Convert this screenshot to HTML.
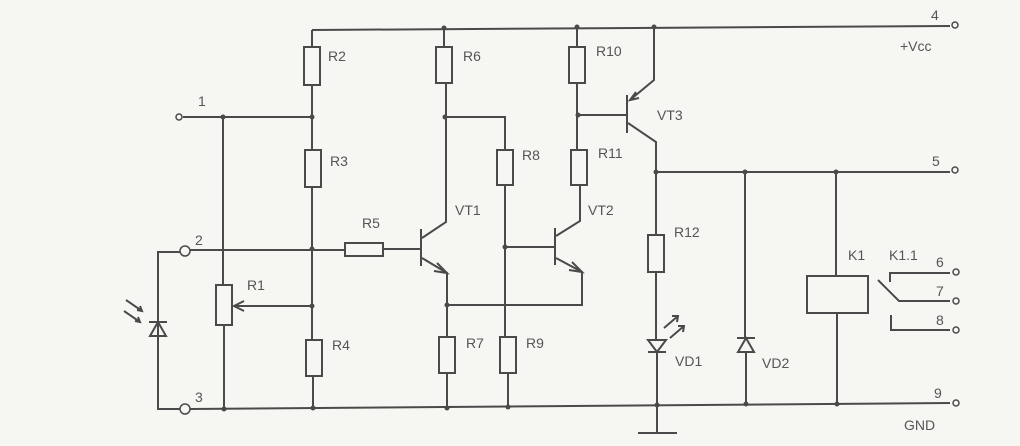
<!DOCTYPE html>
<html><head><meta charset="utf-8"><style>
html,body{margin:0;padding:0;background:#f6f6f3;}
svg{display:block}
text{font-family:"Liberation Sans",sans-serif;font-size:14px;fill:#555;}
</style></head><body>
<svg width="1020" height="446" viewBox="0 0 1020 446" xmlns="http://www.w3.org/2000/svg">
<rect width="1020" height="446" fill="#f6f6f3"/>
<g stroke="#4a4a4a" stroke-width="2" fill="none">
<!-- top rail -->
<path d="M312,30 L950,26"/>
<!-- bottom rail -->
<path d="M190,409 L950,403"/>
<!-- R2/R3/R4 column -->
<path d="M312,30 V47 M312,85 V150 M312,187 V340 M313,376 V408"/>
<rect x="304" y="47" width="16" height="38"/>
<rect x="305" y="150" width="16" height="37"/>
<rect x="306" y="340" width="16" height="36"/>
<!-- terminal1 line -->
<path d="M183,117 H312"/>
<!-- R1 pot -->
<path d="M223,117 V285 M224,325 V409"/>
<rect x="216" y="285" width="16" height="40"/>
<path d="M312,306 H234 M244,301 L234,306 L244,311"/>
<!-- node 2 row -->
<path d="M190,250 H345 M383,249 H421"/>
<rect x="345" y="243" width="38" height="13"/>
<!-- photodiode -->
<path d="M180,252 H158 V409 H180"/>
<path d="M149,322 H167 M158,322 L150,336 H166 Z"/>
<path d="M126,300 L142,311 M137,310 L142,311 L140,306 M124,311 L140,322 M135,321 L140,322 L138,317"/>
<!-- VT1 -->
<path d="M421,229 V266 M422,238 L446,222 V83 M422,258 L447,273 V337 M447,373 V408"/>
<path d="M437,263 L447,273 L434,271"/>
<rect x="439" y="337" width="16" height="36"/>
<!-- R6 -->
<path d="M444,28 V47"/>
<rect x="436" y="47" width="16" height="36"/>
<path d="M445,117 H505 V150 M505,185 V337 M508,373 V407"/>
<rect x="497" y="150" width="16" height="35"/>
<rect x="500" y="337" width="16" height="36"/>
<!-- VT2 -->
<path d="M505,247 H555 M555,228 V265 M556,236 L580,221 V185 M556,258 L582,272 V305 H447"/>
<path d="M572,262 L582,272 L569,270"/>
<!-- R10 R11 -->
<path d="M577,27 V47 M577,83 V150"/>
<rect x="569" y="47" width="16" height="36"/>
<rect x="571" y="150" width="16" height="35"/>
<path d="M578,115 H627"/>
<!-- VT3 -->
<path d="M627,95 V133 M654,27 V80 L630,100 M636,92 L630,100 L639,98 M628,123 L656,142 V172 M656,172 H950"/>
<!-- R12 LED -->
<path d="M656,172 V235 M656,272 V340 M657,352 V432 M638,433 H677"/>
<rect x="648" y="235" width="16" height="37"/>
<path d="M648,340 H666 L657,352 Z M648,352 H666"/>
<path d="M664,328 L678,316 M672,316 L678,316 L677,322 M670,338 L684,326 M678,326 L684,326 L683,332"/>
<!-- VD2 -->
<path d="M745,172 V338 M746,352 V404 M737,338 H755 M746,338 L738,352 H754 Z"/>
<!-- K1 -->
<path d="M836,172 V276 M837,313 V404"/>
<rect x="807" y="276" width="61" height="37"/>
<!-- contacts -->
<path d="M890,282 V273 H950 M878,280 L899,301 H950 M891,315 V330 H950"/>
</g>
<g fill="#4a4a4a">
<circle cx="312" cy="117" r="2.5"/><circle cx="223" cy="117" r="2.5"/><circle cx="312" cy="249" r="2.5"/>
<circle cx="312" cy="306" r="2.5"/><circle cx="224" cy="409" r="2.5"/><circle cx="313" cy="408" r="2.5"/>
<circle cx="444" cy="28" r="2.5"/><circle cx="445" cy="117" r="2.5"/><circle cx="505" cy="247" r="2.5"/>
<circle cx="447" cy="305" r="2.5"/><circle cx="447" cy="408" r="2.5"/><circle cx="508" cy="407" r="2.5"/>
<circle cx="577" cy="27" r="2.5"/><circle cx="578" cy="115" r="2.5"/><circle cx="654" cy="27" r="2.5"/>
<circle cx="656" cy="172" r="2.5"/><circle cx="745" cy="172" r="2.5"/><circle cx="836" cy="172" r="2.5"/>
<circle cx="657" cy="405" r="2.5"/><circle cx="746" cy="404" r="2.5"/><circle cx="837" cy="404" r="2.5"/>
</g>
<g stroke="#4a4a4a" stroke-width="1.5" fill="#f6f6f3">
<circle cx="179" cy="117" r="3"/><circle cx="185" cy="251" r="5"/><circle cx="185" cy="409" r="5"/>
<circle cx="955" cy="25" r="3"/><circle cx="955" cy="170" r="3"/><circle cx="956" cy="272" r="3"/>
<circle cx="956" cy="301" r="3"/><circle cx="956" cy="330" r="3"/><circle cx="956" cy="403" r="3"/>
</g>
<text x="198" y="106">1</text><text x="195" y="245">2</text><text x="195" y="402">3</text>
<text x="328" y="61">R2</text><text x="330" y="166">R3</text><text x="247" y="290">R1</text>
<text x="332" y="350">R4</text><text x="362" y="228">R5</text><text x="463" y="61">R6</text>
<text x="455" y="215">VT1</text><text x="522" y="160">R8</text><text x="466" y="348">R7</text>
<text x="526" y="348">R9</text><text x="596" y="56">R10</text><text x="598" y="158">R11</text>
<text x="588" y="215">VT2</text><text x="657" y="120">VT3</text><text x="674" y="237">R12</text>
<text x="675" y="366">VD1</text><text x="762" y="368">VD2</text><text x="848" y="260">K1</text>
<text x="889" y="260">K1.1</text><text x="931" y="20">4</text><text x="900" y="51">+Vcc</text>
<text x="932" y="166">5</text><text x="936" y="267">6</text><text x="936" y="296">7</text>
<text x="936" y="325">8</text><text x="934" y="398">9</text><text x="904" y="430">GND</text>
</svg>
</body></html>
